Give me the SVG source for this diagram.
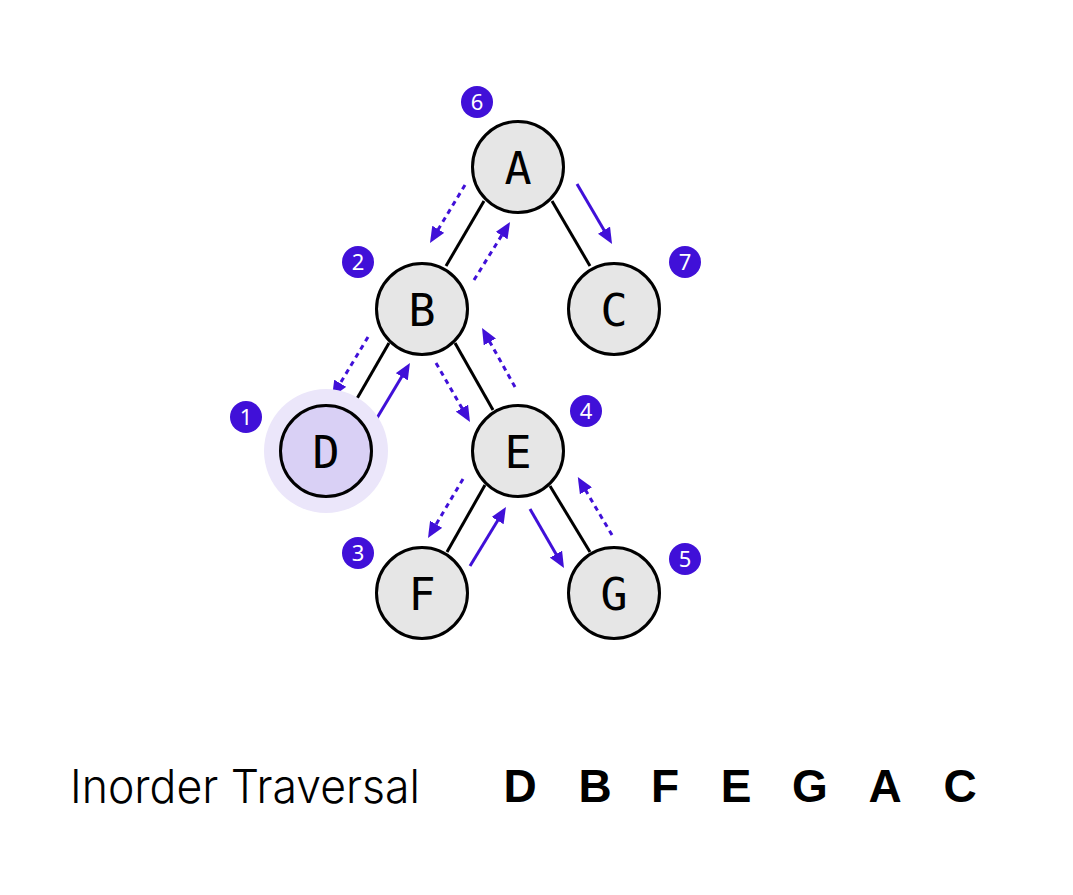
<svg xmlns="http://www.w3.org/2000/svg" width="1073" height="895" viewBox="0 0 1073 895">
<style>
.node circle{fill:#e6e6e6;stroke:#000;stroke-width:3}
.node text{font-family:"DejaVu Sans Mono",monospace;font-size:45px;fill:#000;text-anchor:middle}
.edge{stroke:#000;stroke-width:3;fill:none}
.arr{stroke:#4010d8;stroke-width:3;fill:none;marker-end:url(#ah)}
.dash{stroke-dasharray:5 4.5}
.badge circle{fill:#4010d8}
.badge text{font-family:"Noto Sans",sans-serif;font-size:22px;fill:#fff;text-anchor:middle}
.seq{font-family:"Liberation Sans",Arial,sans-serif;font-weight:bold;font-size:46px;fill:#000;text-anchor:middle}
</style>
<defs>
<marker id="ah" markerUnits="userSpaceOnUse" markerWidth="16" markerHeight="14" viewBox="0 0 16 14" refX="4" refY="7" orient="auto">
<path d="M0,0 L16,7 L0,14 z" fill="#4010d8"/>
</marker>
</defs>
<rect width="1073" height="895" fill="#fff"/>
<g id="edges">
<line class="edge" x1="484" y1="201" x2="446" y2="266"/>
<line class="edge" x1="552" y1="201" x2="590" y2="266"/>
<line class="edge" x1="389" y1="343" x2="351" y2="409"/>
<line class="edge" x1="455" y1="343" x2="493" y2="410"/>
<line class="edge" x1="485" y1="485" x2="447" y2="552"/>
<line class="edge" x1="550" y1="486" x2="590" y2="552"/>
</g>
<g id="connectors">
<line class="arr dash" x1="465" y1="185" x2="436.2" y2="232.7"/>
<line class="arr dash" x1="474" y1="280" x2="503.7" y2="232.2"/>
<line class="arr" x1="577" y1="184" x2="606" y2="233.6"/>
<line class="arr dash" x1="368" y1="337" x2="338.2" y2="386.7"/>
<line class="arr" x1="374" y1="423" x2="403.8" y2="373.3"/>
<line class="arr dash" x1="436" y1="363" x2="464" y2="411.6"/>
<line class="arr dash" x1="515" y1="387" x2="487.9" y2="338.5"/>
<line class="arr dash" x1="463" y1="479" x2="434.1" y2="527.7"/>
<line class="arr" x1="470" y1="566" x2="499.7" y2="517.2"/>
<line class="arr" x1="530" y1="509" x2="558" y2="557.6"/>
<line class="arr dash" x1="612" y1="535" x2="583.9" y2="487.4"/>
</g>
<g id="node-A" class="node"><circle cx="518" cy="167" r="45.5"/><text x="518" y="184">A</text></g>
<g id="node-B" class="node"><circle cx="422" cy="309" r="45.5"/><text x="422" y="326">B</text></g>
<g id="node-C" class="node"><circle cx="614" cy="309" r="45.5"/><text x="614" y="326">C</text></g>
<g id="node-D" class="node"><circle cx="326" cy="451" r="62" style="fill:#ebe6fa;stroke:none"/><circle cx="326" cy="451" r="45.5" style="fill:#d9d0f5"/><text x="326" y="468">D</text></g>
<g id="node-E" class="node"><circle cx="518" cy="451" r="45.5"/><text x="518" y="468">E</text></g>
<g id="node-F" class="node"><circle cx="422" cy="593" r="45.5"/><text x="422" y="610">F</text></g>
<g id="node-G" class="node"><circle cx="614" cy="593" r="45.5"/><text x="614" y="610">G</text></g>
<g id="badges">
<g class="badge"><circle cx="477" cy="102" r="16"/><text x="477" y="110">6</text></g>
<g class="badge"><circle cx="358" cy="262" r="16"/><text x="358" y="270">2</text></g>
<g class="badge"><circle cx="685" cy="262" r="16"/><text x="685" y="270">7</text></g>
<g class="badge"><circle cx="246" cy="417" r="16"/><text x="246" y="425">1</text></g>
<g class="badge"><circle cx="586" cy="411" r="16"/><text x="586" y="419">4</text></g>
<g class="badge"><circle cx="358" cy="553" r="16"/><text x="358" y="561">3</text></g>
<g class="badge"><circle cx="685" cy="559" r="16"/><text x="685" y="567">5</text></g>
</g>
<g id="caption">
<text x="70" y="803" font-family="Inter, 'Noto Sans', sans-serif" font-weight="300" font-size="47" textLength="350" lengthAdjust="spacingAndGlyphs" fill="#000">Inorder Traversal</text>
<text class="seq" x="520" y="802">D</text>
<text class="seq" x="595" y="802">B</text>
<text class="seq" x="665" y="802">F</text>
<text class="seq" x="736" y="802">E</text>
<text class="seq" x="810" y="802">G</text>
<text class="seq" x="885" y="802">A</text>
<text class="seq" x="960" y="802">C</text>
</g>
</svg>
